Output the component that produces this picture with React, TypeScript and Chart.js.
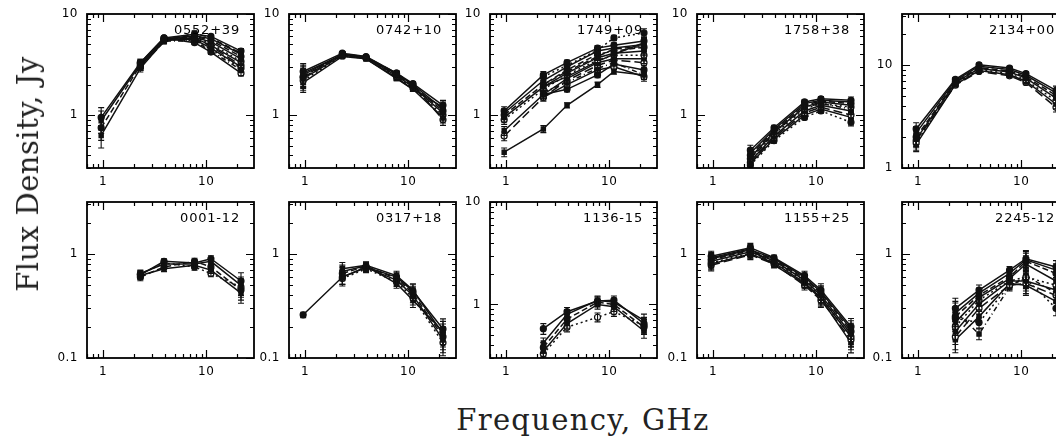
import React, { useEffect, useRef } from "react";
import { Chart, registerables } from "chart.js";
Chart.register(...registerables);

// ---------- data ----------
const FREQS = [0.96, 2.3, 3.9, 7.7, 11.1, 21.7];
const X_MIN = 0.72;
const X_MAX = 29;

const PANEL_NAMES = ["0552+39", "0742+10", "1749+09", "1758+38", "2134+00", "0001-12", "0317+18", "1136-15", "1155+25", "2245-12"];
const Y_MIN = [0.316, 0.316, 0.316, 0.316, 1, 0.1, 0.1, 0.316, 0.1, 0.1];
const Y_MAX = [10, 10, 10, 10, 31.6, 3.16, 3.16, 10, 3.16, 3.16];

type Row = (number | null)[];

const S0552_39: Row[] = [
  [0.95, 3.3, 5.8, 6.3, 6.0, 4.3],
  [0.88, 3.2, 5.7, 6.1, 5.7, 4.0],
  [0.75, 3.1, 5.6, 6.0, 5.5, 3.8],
  [0.63, 2.9, 5.4, 5.9, 5.3, 3.6],
  [null, 3.2, 5.6, 5.9, 5.1, 3.4],
  [null, 3.1, 5.5, 5.8, 4.9, 3.3],
  [null, 3.0, 5.6, 5.7, 4.8, 3.1],
  [null, 3.2, 5.7, 5.6, 4.6, 3.0],
  [null, 3.0, 5.5, 5.5, 4.5, 2.9],
  [null, 3.1, 5.4, 5.4, 4.3, 2.8],
  [null, 3.3, 5.8, 5.2, 4.2, 2.6],
  [null, 3.0, 5.3, 6.5, 5.8, 4.1],
];
const S0742_10: Row[] = [
  [2.7, 4.1, 3.8, 2.6, 2.05, 1.25],
  [2.5, 4.0, 3.75, 2.55, 2.0, 1.15],
  [2.4, 4.0, 3.7, 2.5, 1.95, 1.1],
  [2.3, 3.9, 3.7, 2.45, 1.9, 1.05],
  [2.2, 3.85, 3.65, 2.4, 1.85, 1.0],
  [2.6, 3.95, 3.6, 2.35, 1.8, 0.95],
  [2.35, 4.05, 3.75, 2.6, 2.0, 0.9],
  [2.1, 3.8, 3.6, 2.3, 1.8, 1.2],
];
const S1749_09: Row[] = [
  [1.1, 2.5, 3.3, 4.6, 4.9, 5.4],
  [1.05, 2.2, 3.0, 4.3, 4.6, 5.0],
  [1.0, 2.0, 2.8, 4.0, 4.3, 4.7],
  [0.95, 1.9, 2.6, 3.7, 4.1, 4.3],
  [0.9, 1.8, 2.5, 3.5, 3.9, 3.9],
  [0.7, 1.6, 2.3, 3.3, 3.6, 3.6],
  [0.62, 1.5, 2.2, 3.1, 3.5, 3.3],
  [0.43, 0.73, 1.25, 2.0, 2.7, 2.5],
  [null, 2.4, 3.1, 4.4, 5.8, 6.5],
  [null, 1.7, 2.1, 2.9, 3.3, 2.5],
  [null, 1.5, 2.0, 2.8, 3.0, 2.4],
  [null, 2.0, 2.7, 3.8, 4.5, 4.8],
  [null, 1.6, 1.8, 2.5, 3.2, 2.8],
  [null, 1.9, 2.4, 3.4, 4.0, 5.2],
];
const S1758_38: Row[] = [
  [null, 0.45, 0.75, 1.35, 1.45, 1.4],
  [null, 0.42, 0.72, 1.3, 1.4, 1.35],
  [null, 0.4, 0.7, 1.25, 1.38, 1.3],
  [null, 0.38, 0.68, 1.2, 1.35, 1.25],
  [null, 0.37, 0.65, 1.15, 1.3, 1.2],
  [null, 0.35, 0.62, 1.1, 1.25, 1.1],
  [null, 0.34, 0.6, 1.05, 1.2, 1.0],
  [null, 0.33, 0.58, 1.0, 1.15, 0.95],
  [null, 0.32, 0.56, 0.95, 1.1, 0.85],
  [null, 0.36, 0.66, 1.2, 1.3, 1.15],
];
const S2134_00: Row[] = [
  [2.4, 7.3, 10.1, 9.4, 8.3, 5.7],
  [2.2, 7.1, 9.8, 9.1, 8.0, 5.4],
  [2.0, 6.9, 9.5, 8.8, 7.7, 5.1],
  [1.9, 6.8, 9.3, 8.6, 7.5, 4.8],
  [1.75, 6.6, 9.1, 8.3, 7.2, 4.5],
  [1.7, 6.5, 8.9, 8.1, 7.0, 4.2],
  [1.85, 6.4, 8.7, 7.9, 6.8, 3.9],
];
const S0001_12: Row[] = [
  [null, 0.63, 0.85, 0.82, 0.9, 0.55],
  [null, 0.65, 0.8, 0.8, 0.85, 0.5],
  [null, 0.6, 0.75, 0.85, 0.75, 0.45],
  [null, 0.62, 0.72, 0.78, 0.7, 0.42],
  [null, 0.64, 0.82, 0.75, 0.65, 0.48],
];
const S0317_18: Row[] = [
  [0.26, 0.6, 0.75, 0.6, 0.44, 0.19],
  [null, 0.72, 0.78, 0.62, 0.45, 0.17],
  [null, 0.65, 0.76, 0.58, 0.42, 0.16],
  [null, 0.6, 0.74, 0.56, 0.4, 0.15],
  [null, 0.58, 0.72, 0.54, 0.38, 0.14],
  [null, 0.68, 0.77, 0.52, 0.36, 0.18],
];
const S1136_15: Row[] = [
  [null, 0.58, 0.85, 1.08, 1.1, 0.65],
  [null, 0.42, 0.8, 1.1, 1.05, 0.7],
  [null, 0.38, 0.72, 1.05, 1.0, 0.6],
  [null, 0.35, 0.65, 1.0, 0.95, 0.55],
  [null, 0.33, 0.6, 0.75, 0.85, 0.62],
];
const S1155_25: Row[] = [
  [0.95, 1.15, 0.92, 0.62, 0.45, 0.2],
  [0.9, 1.1, 0.9, 0.6, 0.43, 0.19],
  [0.88, 1.08, 0.88, 0.58, 0.42, 0.18],
  [0.85, 1.05, 0.86, 0.56, 0.4, 0.17],
  [0.82, 1.02, 0.84, 0.55, 0.39, 0.16],
  [0.8, 1.0, 0.82, 0.53, 0.38, 0.16],
  [0.78, 0.98, 0.8, 0.5, 0.36, 0.15],
  [0.92, 1.12, 0.78, 0.52, 0.37, 0.14],
];
const S2245_12: Row[] = [
  [null, 0.3, 0.45, 0.7, 0.9, 0.75],
  [null, 0.27, 0.42, 0.65, 0.88, 0.7],
  [null, 0.25, 0.4, 0.6, 0.85, 0.65],
  [null, 0.22, 0.38, 0.58, 0.8, 0.55],
  [null, 0.2, 0.36, 0.55, 0.6, 0.5],
  [null, 0.18, 0.33, 0.55, 0.55, 0.45],
  [null, 0.16, 0.3, 0.5, 0.52, 0.4],
  [null, 0.15, 0.25, 0.52, 0.5, 0.35],
  [null, 0.24, 0.22, 0.5, 0.58, 0.3],
  [null, 0.28, 0.17, 0.48, 0.62, 0.42],
];

// relative errors per frequency
const E0552_39 = [0.25, 0.08, 0.04, 0.04, 0.05, 0.06];
const E0742_10 = [0.2, 0.04, 0.03, 0.05, 0.05, 0.12];
const E1749_09 = [0.1, 0.08, 0.06, 0.06, 0.06, 0.1];
const E1758_38 = [0, 0.12, 0.06, 0.05, 0.05, 0.08];
const E2134_00 = [0.15, 0.04, 0.04, 0.04, 0.05, 0.1];
const E0001_12 = [0, 0.08, 0.06, 0.07, 0.07, 0.2];
const E0317_18 = [0.06, 0.15, 0.08, 0.1, 0.15, 0.25];
const E1136_15 = [0, 0.12, 0.1, 0.1, 0.1, 0.15];
const E1155_25 = [0.12, 0.1, 0.06, 0.1, 0.15, 0.2];
const E2245_12 = [0, 0.25, 0.12, 0.08, 0.2, 0.15];

const SERIES = [S0552_39, S0742_10, S1749_09, S1758_38, S2134_00, S0001_12, S0317_18, S1136_15, S1155_25, S2245_12];
const ERRORS = [E0552_39, E0742_10, E1749_09, E1758_38, E2134_00, E0001_12, E0317_18, E1136_15, E1155_25, E2245_12];

// ---------- layout & style ----------
const PANEL_X = [87, 289, 490, 697, 902];
const ROW_Y = [14, 202];
const PANEL_W = 167;
const PANEL_H = [154, 156];
const PADL = 44, PADR = 10, PADT = 10, PADB = 28;

const DASHES: number[][] = [[], [], [6, 3], [], [2, 3], [], [9, 4], [], [2, 3], [5, 3, 1, 3], [], [6, 3], [], []];
const MARKERS = ["circle", "rect", "circle", "rect", "circle", "rect", "circle", "rect", "circle", "rect", "circle", "rect", "circle", "rect"];
const OPEN = [false, false, false, false, true, false, true, false, false, false, true, false, false, false];

function logTicks(min: number, max: number) {
  const out: { v: number; major: boolean }[] = [];
  for (let e = Math.floor(Math.log10(min)) - 1; e <= Math.ceil(Math.log10(max)); e++) {
    for (let k = 1; k < 10; k++) {
      const v = k * Math.pow(10, e);
      if (v >= min * 0.999 && v <= max * 1.001) out.push({ v, major: k === 1 });
    }
  }
  return out;
}

function fmt(v: number) {
  const e = Math.round(Math.log10(v));
  return e >= 0 ? String(Math.pow(10, e)) : "0." + "0".repeat(-e - 1) + "1";
}

const framePlugin = {
  id: "frame",
  afterDatasetsDraw(chart: any, _a: any, opts: any) {
    const { ctx, chartArea: a } = chart;
    const xs = chart.scales.x, ys = chart.scales.y;
    // error bars
    ctx.save();
    ctx.beginPath();
    ctx.rect(a.left, a.top, a.right - a.left, a.bottom - a.top);
    ctx.clip();
    ctx.strokeStyle = "#111";
    ctx.lineWidth = 1.1;
    ctx.setLineDash([]);
    chart.data.datasets.forEach((ds: any) => {
      ds.data.forEach((p: any) => {
        const e = opts.errors[p.i];
        if (!e) return;
        const px = xs.getPixelForValue(p.x);
        const y1 = ys.getPixelForValue(p.y * (1 + e));
        const y2 = ys.getPixelForValue(p.y * (1 - e));
        ctx.beginPath();
        ctx.moveTo(px, y1); ctx.lineTo(px, y2);
        ctx.moveTo(px - 3, y1); ctx.lineTo(px + 3, y1);
        ctx.moveTo(px - 3, y2); ctx.lineTo(px + 3, y2);
        ctx.stroke();
      });
    });
    ctx.restore();
  },
  afterDraw(chart: any, _a: any, opts: any) {
    const { ctx, chartArea: a } = chart;
    const xs = chart.scales.x, ys = chart.scales.y;
    ctx.save();
    ctx.strokeStyle = "#000";
    ctx.fillStyle = "#000";
    ctx.setLineDash([]);
    ctx.lineWidth = 1.2;
    ctx.beginPath();
    logTicks(xs.min, xs.max).forEach((t) => {
      const px = Math.round(xs.getPixelForValue(t.v)) + 0.5;
      const L = t.major ? 8 : 4;
      ctx.moveTo(px, a.bottom); ctx.lineTo(px, a.bottom - L);
      ctx.moveTo(px, a.top); ctx.lineTo(px, a.top + L);
    });
    logTicks(ys.min, ys.max).forEach((t) => {
      const py = Math.round(ys.getPixelForValue(t.v)) + 0.5;
      const L = t.major ? 8 : 4;
      ctx.moveTo(a.left, py); ctx.lineTo(a.left + L, py);
      ctx.moveTo(a.right, py); ctx.lineTo(a.right - L, py);
    });
    ctx.stroke();
    ctx.lineWidth = 1.8;
    ctx.strokeRect(a.left, a.top, a.right - a.left, a.bottom - a.top);

    ctx.font = "12px 'DejaVu Sans'";
    (ctx as any).letterSpacing = "0.5px";
    ctx.textBaseline = "middle";
    ctx.textAlign = "center";
    logTicks(xs.min, xs.max).filter((t) => t.major).forEach((t) => {
      ctx.fillText(fmt(t.v), xs.getPixelForValue(t.v), a.bottom + 14);
    });
    ctx.textAlign = "right";
    logTicks(ys.min, ys.max).filter((t) => t.major).forEach((t) => {
      ctx.fillText(fmt(t.v), a.left - 9, ys.getPixelForValue(t.v));
    });
    ctx.font = "13px 'DejaVu Sans'";
    (ctx as any).letterSpacing = "0.8px";
    ctx.textAlign = "right";
    ctx.fillText(opts.name, a.right - 14, a.top + 17);
    ctx.restore();
  },
};

function Panel({ idx }: { idx: number }) {
  const ref = useRef<HTMLCanvasElement>(null);
  const col = idx % 5, row = Math.floor(idx / 5);
  const h = PANEL_H[row];
  const W = PADL + PANEL_W + PADR, H = PADT + h + PADB;
  useEffect(() => {
    const datasets = SERIES[idx].map((rowVals, si) => {
      const data = rowVals
        .map((v, i) => (v == null ? null : { x: FREQS[i], y: v, i }))
        .filter((p) => p !== null);
      const open = OPEN[si % OPEN.length];
      return {
        data,
        borderColor: "#111",
        borderWidth: 1.5,
        borderDash: DASHES[si % DASHES.length],
        pointStyle: MARKERS[si % MARKERS.length],
        pointRadius: 3,
        pointBackgroundColor: open ? "#fff" : "#111",
        pointBorderColor: "#111",
        pointBorderWidth: 1.2,
        fill: false,
        tension: 0,
      };
    });
    const chart = new Chart(ref.current!, {
      type: "line",
      data: { datasets } as any,
      options: {
        responsive: false,
        animation: false,
        events: [],
        layout: { padding: { left: PADL, right: PADR, top: PADT, bottom: PADB } },
        scales: {
          x: { type: "logarithmic", min: X_MIN, max: X_MAX, display: false },
          y: { type: "logarithmic", min: Y_MIN[idx], max: Y_MAX[idx], display: false },
        },
        plugins: {
          legend: { display: false },
          tooltip: { enabled: false },
          frame: { name: PANEL_NAMES[idx], errors: ERRORS[idx] },
        } as any,
      },
      plugins: [framePlugin as any],
    });
    return () => chart.destroy();
  }, [idx]);
  return (
    <canvas
      ref={ref}
      width={W}
      height={H}
      style={{ position: "absolute", left: PANEL_X[col] - PADL, top: ROW_Y[row] - PADT, width: W, height: H }}
    />
  );
}

export default function App() {
  const titleFont = "'DejaVu Serif', 'Liberation Serif', serif";
  return (
    <div style={{ position: "fixed", left: 0, top: 0, width: 1056, height: 441, overflow: "hidden", background: "#fff" }}>
      {PANEL_NAMES.map((_, i) => (
        <Panel key={i} idx={i} />
      ))}
      <div
        style={{
          position: "absolute",
          left: 28,
          top: 174,
          transform: "translate(-50%, -50%) rotate(-90deg)",
          fontFamily: titleFont,
          fontSize: 29,
          letterSpacing: "0.5px",
          lineHeight: "32px",
          whiteSpace: "nowrap",
          color: "#222",
        }}
      >
        Flux Density, Jy
      </div>
      <div
        style={{
          position: "absolute",
          left: 583,
          top: 404,
          transform: "translateX(-50%)",
          fontFamily: titleFont,
          fontSize: 29,
          letterSpacing: "1.3px",
          lineHeight: "32px",
          whiteSpace: "nowrap",
          color: "#222",
        }}
      >
        Frequency, GHz
      </div>
    </div>
  );
}
